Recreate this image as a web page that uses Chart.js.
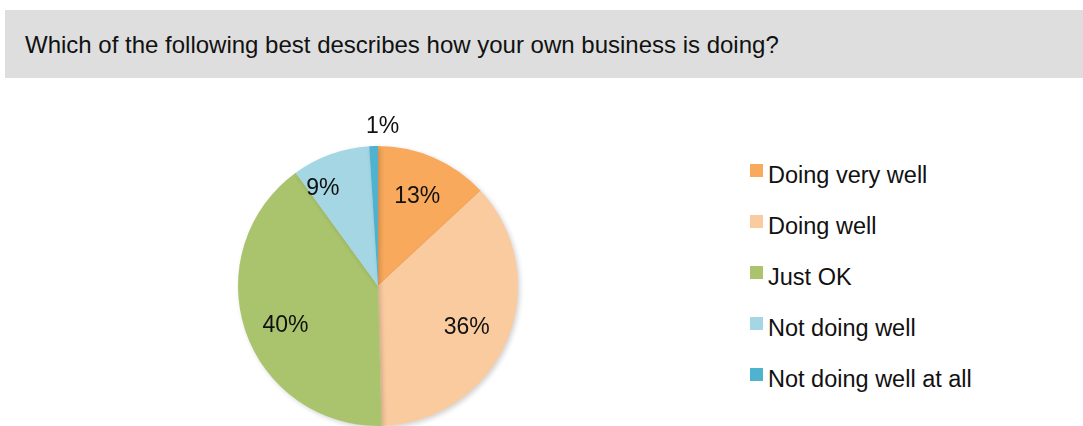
<!DOCTYPE html>
<html><head><meta charset="utf-8">
<script src="https://cdn.jsdelivr.net/npm/chart.js@4"></script>
<style>
html,body{margin:0;padding:0;background:#fff;width:1083px;height:426px;overflow:hidden;font-family:"Liberation Sans",Arial,sans-serif;}
#hdr{position:absolute;left:5px;top:10px;width:1078px;height:68px;background:#dedede;}
#hdr span{position:absolute;left:20px;top:21px;font-size:24px;line-height:28px;color:#111;white-space:nowrap;}
#wrap{position:absolute;left:178px;top:96px;width:400px;height:380px;}
#legend{position:absolute;left:750px;top:161px;width:330px;}
.li{position:relative;height:51px;font-size:23.5px;color:#111;white-space:nowrap;}
.li i{position:absolute;left:0;top:3px;width:13px;height:13px;}
.li span{position:absolute;left:18px;top:0;line-height:28px;}
</style></head><body>
<div id="hdr"><span>Which of the following best describes how your own business is doing?</span></div>
<div id="wrap"><canvas id="c" width="400" height="380"></canvas></div>
<div id="legend"></div>
<script>
const categories = ["Doing very well","Doing well","Just OK","Not doing well","Not doing well at all"];
const values = [13.1, 36.5, 40.4, 9.0, 1.0];
const valueLabels = ["13%","36%","40%","9%","1%"];
const colors = ["#f8a95b","#fbcba0","#a9c46c","#a5d6e4","#4fb3cf"];
const labelRadius = [0.7, 0.7, 0.72, 0.8, 1.14];
const labelAngleShift = [0, 0.04, -0.08, -0.17, 0.06];

const labelPlugin = {
  id:'pctLabels',
  afterDatasetsDraw(chart){
    const ctx = chart.ctx;
    const meta = chart.getDatasetMeta(0);
    ctx.save();
    ctx.font = '23px "Liberation Sans", Arial, sans-serif';
    ctx.fillStyle = '#111';
    ctx.textAlign = 'center';
    ctx.textBaseline = 'middle';
    meta.data.forEach((arc,i)=>{
      const p = arc.getProps(['x','y','startAngle','endAngle','outerRadius'],true);
      const a = (p.startAngle+p.endAngle)/2 + labelAngleShift[i];
      const r = p.outerRadius*labelRadius[i];
      ctx.fillText(valueLabels[i], p.x+Math.cos(a)*r, p.y+Math.sin(a)*r);
    });
    ctx.restore();
  }
};
const shadowPlugin = {
  id:'shadow',
  beforeDatasetsDraw(chart){
    const ctx=chart.ctx; ctx.save();
    ctx.shadowColor='rgba(0,0,0,0.18)'; ctx.shadowBlur=5; ctx.shadowOffsetX=2; ctx.shadowOffsetY=2;
  },
  afterDatasetsDraw(chart){ chart.ctx.restore(); }
};

new Chart(document.getElementById('c'),{
  type:'pie',
  data:{labels:categories,datasets:[{data:values,backgroundColor:colors,borderWidth:0}]},
  options:{
    responsive:false,animation:false,
    layout:{padding:{left:60,right:60,top:50,bottom:50}},
    plugins:{legend:{display:false},tooltip:{enabled:false}}
  },
  plugins:[shadowPlugin,labelPlugin]
});

const lg=document.getElementById('legend');
categories.forEach((c,i)=>{
  const d=document.createElement('div');d.className='li';
  d.innerHTML='<i style="background:'+colors[i]+'"></i><span>'+c+'</span>';
  lg.appendChild(d);
});
</script>
</body></html>
